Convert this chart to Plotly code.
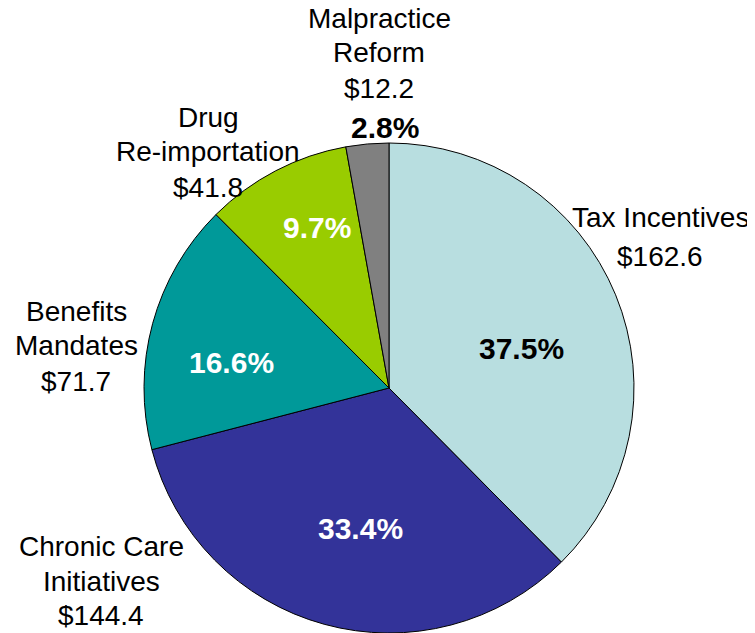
import plotly.graph_objects as go

# spending by category ($ billions), clockwise from 12 o'clock
categories = ["Tax Incentives", "Chronic Care Initiatives", "Benefits Mandates",
              "Drug Re-importation", "Malpractice Reform"]
values = [162.6, 144.4, 71.7, 41.8, 12.2]
pct_labels = ["37.5%", "33.4%", "16.6%", "9.7%", "2.8%"]
name_lines = [["Tax Incentives"], ["Chronic Care", "Initiatives"], ["Benefits", "Mandates"],
              ["Drug", "Re-importation"], ["Malpractice", "Reform"]]

colors = ["#B8DEE0", "#333399", "#009999", "#99CC00", "#808080"]
pct_colors = ["black", "white", "white", "white", "black"]

FONT = "Arial, Liberation Sans, sans-serif"

# page has an 8px body margin, so work in reference pixels and shift
W, H, OFF = 747, 625, 8


def px2paper(x, y):
    return (x - OFF) / W, 1 - (y - OFF) / H


fig = go.Figure(go.Pie(
    labels=categories,
    values=values,
    textinfo="none",
    marker=dict(colors=colors, line=dict(color="black", width=1)),
    sort=False,
    direction="clockwise",
    rotation=0,
    domain=dict(x=[(144 - OFF) / W, (634 - OFF) / W], y=[0, 1 - (143 - OFF) / H]),
    showlegend=False,
))

# outside label line centres (x, y of each line) and inside percent centres
label_x = [660, 101, 76, 208, 379]
label_y = [[217, 256], [546, 581, 615], [311, 346, 381], [117, 151, 187], [18, 52, 88]]
pct_pos = [(521, 348), (360, 528), (231, 363), (317, 227), (385, 128)]

annotations = []


def add_text(txt, x, y, size, color="black", bold=False):
    xp, yp = px2paper(x, y)
    annotations.append(dict(
        text=f"<b>{txt}</b>" if bold else txt, x=xp, y=yp,
        xref="paper", yref="paper", xanchor="center", yanchor="middle",
        showarrow=False, font=dict(family=FONT, size=size, color=color),
    ))


for i in range(len(categories)):
    lines = name_lines[i] + [f"${values[i]}"]
    for line, ly in zip(lines, label_y[i]):
        add_text(line, label_x[i], ly, 28)
    add_text(pct_labels[i], pct_pos[i][0], pct_pos[i][1], 30, pct_colors[i], bold=True)

fig.update_layout(
    width=W, height=H,
    margin=dict(l=0, r=0, t=0, b=0),
    paper_bgcolor="white",
    plot_bgcolor="white",
    annotations=annotations,
)

fig.write_html("out.html")
